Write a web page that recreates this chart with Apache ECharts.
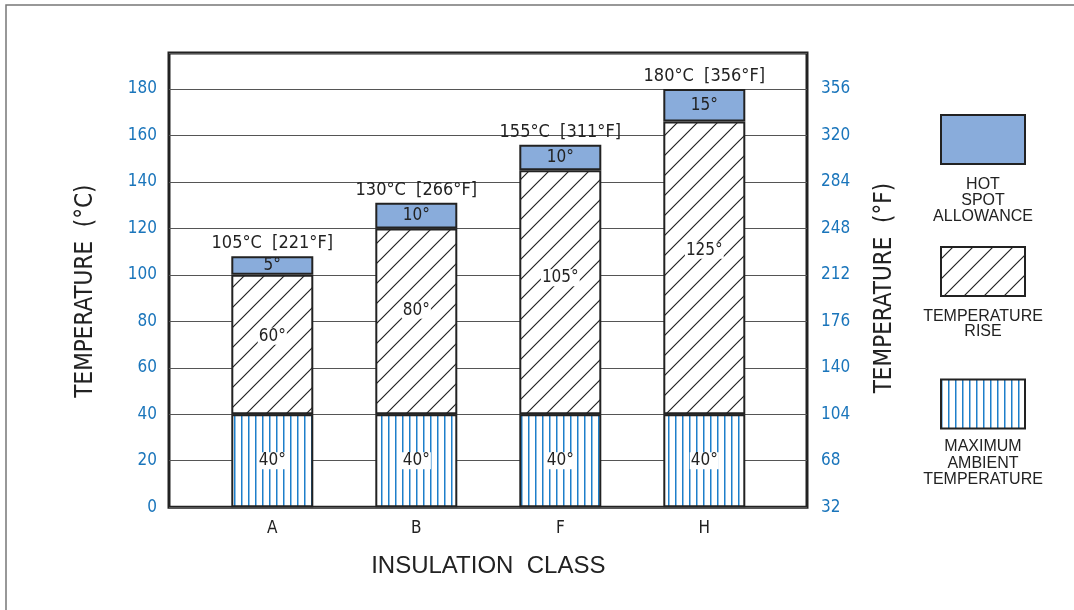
<!DOCTYPE html>
<html>
<head>
<meta charset="utf-8">
<script src="https://cdn.jsdelivr.net/npm/echarts@6/dist/echarts.min.js"></script>
<style>
html,body{margin:0;padding:0;background:#fff;}
#chart{width:1074px;height:610px;}
</style>
</head>
<body>
<div id="chart"></div>
<script>
// data
let classes = ['A', 'B', 'F', 'H'];
let ambient = [40, 40, 40, 40];
let rise = [60, 80, 105, 126];
let hotSpot = [8, 11, 11, 14];
let ambientText = ['40°', '40°', '40°', '40°'];
let riseText = ['60°', '80°', '105°', '125°'];
let hotSpotText = ['5°', '10°', '10°', '15°'];
let totalText = ['105°C  [221°F]', '130°C  [266°F]', '155°C  [311°F]', '180°C  [356°F]'];
let celsiusTicks = ['0', '20', '40', '60', '80', '100', '120', '140', '160', '180'];
let fahrenheitTicks = ['32', '68', '104', '140', '176', '212', '248', '284', '320', '356'];
let legendNames = ['HOT\nSPOT\nALLOWANCE', 'TEMPERATURE\nRISE', 'MAXIMUM\nAMBIENT\nTEMPERATURE'];

let font = '"DejaVu Sans Condensed", "Liberation Sans", Arial, sans-serif';
let wideFont = '"Liberation Sans", Arial, sans-serif';
let ink = '#222';
let tickBlue = '#1a75bb';
let hotBlue = '#89acdb';
let yMax = 195.5;

// pattern tiles
let hatchTile = () => {
    let c = document.createElement('canvas');
    c.width = 20; c.height = 20;
    let g = c.getContext('2d');
    g.fillStyle = '#fff';
    g.fillRect(0, 0, 20, 20);
    g.strokeStyle = ink;
    g.lineWidth = 1.2;
    g.beginPath();
    g.moveTo(-2, 22); g.lineTo(22, -2);
    g.moveTo(-2, 2); g.lineTo(2, -2);
    g.moveTo(18, 22); g.lineTo(22, 18);
    g.stroke();
    return c;
};
let stripeTile = () => {
    let c = document.createElement('canvas');
    c.width = 7; c.height = 4;
    let g = c.getContext('2d');
    g.fillStyle = '#fff';
    g.fillRect(0, 0, 7, 4);
    g.fillStyle = '#1e7fca';
    g.fillRect(3, 0, 1.5, 4);
    return c;
};
let hatch = {image: hatchTile(), repeat: 'repeat'};
let stripes = {image: stripeTile(), repeat: 'repeat'};

let tickLabel = (list) => (v) => {
    let i = Math.round(v / 20);
    return (Math.abs(v - i * 20) < 1e-6 && list[i] !== undefined) ? list[i] : '';
};

let totals = classes.map((c, i) => ambient[i] + rise[i] + hotSpot[i]);

let inLabel = (texts, bg, pos) => ({
    show: true,
    position: pos || 'inside',
    align: 'center',
    verticalAlign: 'middle',
    formatter: (p) => texts[p.dataIndex],
    color: ink,
    fontFamily: font,
    fontSize: 17,
    backgroundColor: bg,
    padding: [0, 1]
});

let barBase = {
    type: 'bar',
    xAxisIndex: 1,
    yAxisIndex: 2,
    stack: 'temp',
    barWidth: 82,
    silent: true
};

let chart = echarts.init(document.getElementById('chart'));

let option = {
    animation: false,
    backgroundColor: '#fff',
    textStyle: {fontFamily: font},
    grid: [
        {left: 169, right: 267, top: 53, bottom: 102.8, show: true, borderColor: ink, borderWidth: 3, backgroundColor: 'transparent'},
        {left: 200.3, right: 297.7, top: 53, bottom: 102.8}
    ],
    xAxis: [
        {gridIndex: 0, type: 'category', data: classes, show: false},
        {
            gridIndex: 1, type: 'category', data: classes,
            axisLine: {show: false}, axisTick: {show: false},
            axisLabel: {margin: 13, color: ink, fontFamily: font, fontSize: 17},
            name: 'INSULATION  CLASS', nameLocation: 'middle', nameGap: 47,
            nameTextStyle: {color: ink, fontFamily: wideFont, fontSize: 24}
        }
    ],
    yAxis: [
        {
            gridIndex: 0, type: 'value', min: 0, max: yMax, interval: 20, position: 'left',
            axisLine: {show: false}, axisTick: {show: false},
            splitLine: {show: true, lineStyle: {color: '#555', width: 1}},
            axisLabel: {margin: 12, color: tickBlue, fontFamily: font, fontSize: 17, formatter: tickLabel(celsiusTicks)},
            name: 'TEMPERATURE  (°C)', nameLocation: 'middle', nameGap: 71, nameRotate: 90,
            nameTextStyle: {color: ink, fontFamily: font, fontSize: 24, padding: [0, 22, 0, 0]}
        },
        {
            gridIndex: 0, type: 'value', min: 0, max: yMax, interval: 20, position: 'right',
            axisLine: {show: false}, axisTick: {show: false}, splitLine: {show: false},
            axisLabel: {margin: 14, color: tickBlue, fontFamily: font, fontSize: 17, formatter: tickLabel(fahrenheitTicks)},
            name: 'TEMPERATURE  (°F)', nameLocation: 'middle', nameGap: 66, nameRotate: 90,
            nameTextStyle: {color: ink, fontFamily: font, fontSize: 24, padding: [0, 16, 0, 0]}
        },
        {gridIndex: 1, type: 'value', min: 0, max: yMax, show: false, splitLine: {show: false}}
    ],
    series: [
        Object.assign({}, barBase, {
            name: legendNames[2], data: ambient,
            itemStyle: {color: stripes, borderColor: ink, borderWidth: 2},
            label: inLabel(ambientText, '#fff')
        }),
        Object.assign({}, barBase, {
            name: legendNames[1], data: rise,
            itemStyle: {color: hatch, borderColor: ink, borderWidth: 2},
            label: inLabel(riseText, '#fff', ['50%', '44%'])
        }),
        Object.assign({}, barBase, {
            name: legendNames[0], data: hotSpot,
            itemStyle: {color: hotBlue, borderColor: ink, borderWidth: 2},
            label: inLabel(hotSpotText, 'transparent')
        }),
        {
            type: 'scatter', xAxisIndex: 1, yAxisIndex: 2, data: totals,
            symbolSize: 1, itemStyle: {color: 'rgba(0,0,0,0)', opacity: 1}, silent: true,
            label: {
                show: true, position: 'top', distance: 3,
                formatter: (p) => totalText[p.dataIndex],
                color: ink, fontFamily: font, fontSize: 18
            }
        }
    ],
    graphic: [
        // outer figure frame (top and left edges visible)
        {type: 'rect', z: -10, shape: {x: 6, y: 5, width: 2000, height: 2000}, style: {fill: 'none', stroke: '#777', lineWidth: 1.5}},
        // legend
        {type: 'rect', shape: {x: 941, y: 115, width: 84, height: 49}, style: {fill: hotBlue, stroke: ink, lineWidth: 2}},
        {type: 'text', x: 983, y: 176, style: {text: legendNames[0], fill: ink, fontFamily: wideFont, fontSize: 16, lineHeight: 16.3, align: 'center', verticalAlign: 'top'}},
        {type: 'rect', shape: {x: 941, y: 247, width: 84, height: 49}, style: {fill: hatch, stroke: ink, lineWidth: 2}},
        {type: 'text', x: 983, y: 308.5, style: {text: legendNames[1], fill: ink, fontFamily: wideFont, fontSize: 16, lineHeight: 15.6, align: 'center', verticalAlign: 'top'}},
        {type: 'rect', shape: {x: 941, y: 379.5, width: 84, height: 49}, style: {fill: stripes, stroke: ink, lineWidth: 2}},
        {type: 'text', x: 983, y: 438.8, style: {text: legendNames[2], fill: ink, fontFamily: wideFont, fontSize: 16, lineHeight: 16.5, align: 'center', verticalAlign: 'top'}}
    ]
};

chart.setOption(option);
</script>
</body>
</html>
